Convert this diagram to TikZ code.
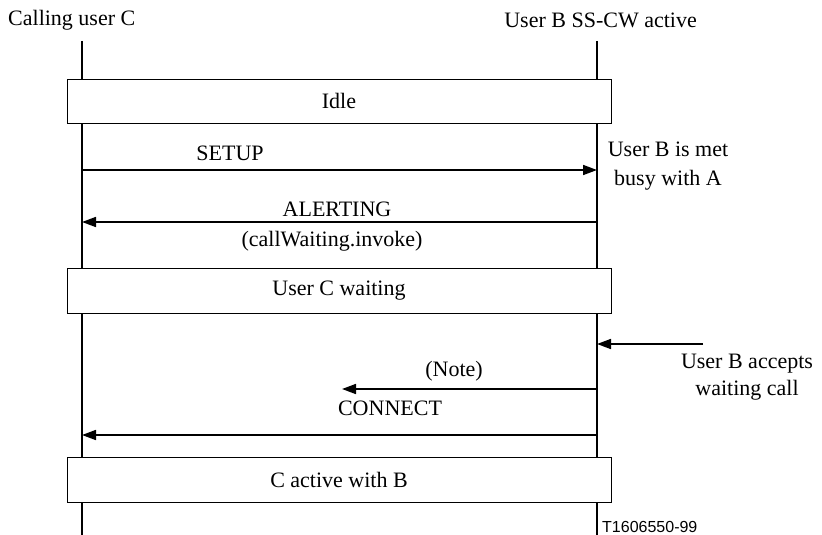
\documentclass[tikz,border=0pt]{standalone}
\usepackage{fontspec}
\setmainfont{Liberation Serif}
\newfontfamily\figsans{Liberation Sans}
\usetikzlibrary{arrows.meta}
\begin{document}
\begin{tikzpicture}[x=1pt,y=-1pt,
  every node/.style={font=\fontsize{22}{26}\selectfont, inner sep=0pt},
  life/.style={line width=1.6pt},
  msg/.style={line width=1.6pt,-{Triangle[length=14pt,width=10pt]}},
  statebox/.style={draw,line width=0.8pt,fill=white,minimum width=544pt,minimum height=44pt},
]
\useasboundingbox (0,0) rectangle (822,535);

% entity headings
\node[anchor=west] (headC) at (8,20) {Calling user C};
\node[anchor=east] (headB) at (697,20) {User B SS-CW active};

% lifelines
\coordinate (C top) at (82,41);
\coordinate (C bot) at (82,535);
\coordinate (B top) at (597,41);
\coordinate (B bot) at (597,535);
\draw[life] (C top) -- (C bot);
\draw[life] (B top) -- (B bot);

% state boxes
\node[statebox] (idle) at (339,101) {Idle};
\node[statebox,minimum height=45pt] (waiting) at (339,290.5) {User C waiting};
\node[statebox,minimum height=45pt] (active) at (339,479.5) {C active with B};

% SETUP
\coordinate (C setup) at (82,170);
\coordinate (B setup) at (597,170);
\draw[msg] (C setup) -- (B setup);
\node (setup) at (230,153) {SETUP};
\node[align=center,font=\fontsize{22}{29}\selectfont] (busy) at (668,166) {User B is met\\busy with A};

% ALERTING
\coordinate (B alert) at (597,222);
\coordinate (C alert) at (82,222);
\draw[msg] (B alert) -- (C alert);
\node (alerting) at (337,209) {ALERTING};
\node (cwinvoke) at (332,241) {(callWaiting.invoke)};

% user B accepts
\coordinate (ext accept) at (703,344);
\coordinate (B accept) at (597,344);
\draw[msg] (ext accept) -- (B accept);
\node[align=center,font=\fontsize{22}{27}\selectfont] (accepts) at (747,377) {User B accepts\\waiting call};

% note arrow
\coordinate (B note) at (597,389);
\coordinate (note end) at (342,389);
\draw[msg] (B note) -- (note end);
\node (note) at (454,371) {(Note)};

% CONNECT
\node (connect) at (390,408) {CONNECT};
\coordinate (B conn) at (597,435);
\coordinate (C conn) at (82,435);
\draw[msg] (B conn) -- (C conn);

% figure number
\node[anchor=west,font=\figsans\fontsize{16}{18}\selectfont] (fignum) at (602,527) {T1606550-99};
\end{tikzpicture}
\end{document}
